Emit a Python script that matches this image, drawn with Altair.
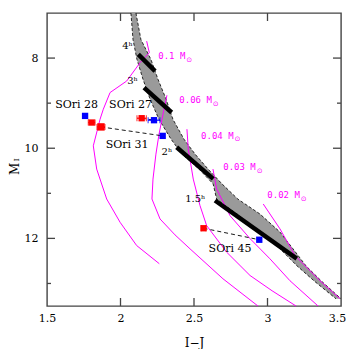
import altair as alt
import pandas as pd

# ---------------- data ----------------
# hatched isochrone band: for each M_I, left and right edge in I-J
band_M     = [7.00, 7.59, 8.03, 8.47, 8.91, 9.36, 9.80, 10.13, 10.46, 10.79, 11.13, 11.46, 11.86, 12.23, 12.61, 12.96, 13.34]
band_left  = [2.071, 2.085, 2.112, 2.153, 2.201, 2.262, 2.344, 2.418, 2.533, 2.630, 2.654, 2.793, 2.949, 3.085, 3.201, 3.323, 3.466]
band_right = [2.105, 2.139, 2.207, 2.255, 2.310, 2.357, 2.432, 2.507, 2.595, 2.690, 2.799, 2.949, 3.085, 3.173, 3.262, 3.371, 3.500]

# thick age segments
seg_age = ["4h", "4h", "3h", "3h", "2h", "2h", "1.5h", "1.5h"]
seg_x   = [2.121, 2.235, 2.160, 2.348, 2.382, 2.631, 2.643, 3.199]
seg_y   = [7.918, 8.288, 8.655, 9.208, 9.980, 10.680, 11.160, 12.450]

age_text = ["4ʰ", "3ʰ", "2ʰ", "1.5ʰ"]
age_x    = [2.048, 2.082, 2.316, 2.509]
age_y    = [7.741, 8.509, 10.080, 11.126]

# evolutionary tracks (magenta)
t010_x = [2.178, 2.196, 2.133, 2.042, 1.929, 1.883, 1.861, 1.815, 1.838, 1.906, 1.997, 2.110, 2.264]
t010_y = [7.624, 7.881, 8.102, 8.509, 8.765, 9.135, 9.356, 9.947, 10.462, 11.126, 11.642, 12.159, 12.562]
t006_x = [2.316, 2.289, 2.262, 2.241, 2.221, 2.214, 2.269, 2.371, 2.473, 2.697, 2.935]
t006_y = [8.825, 9.246, 9.688, 10.131, 10.684, 11.126, 11.569, 11.923, 12.232, 12.896, 13.500]
t004_x = [2.452, 2.461, 2.495, 2.541, 2.586, 2.722, 2.881, 3.031, 3.194]
t004_y = [9.577, 10.020, 10.684, 11.274, 11.717, 12.305, 12.823, 13.162, 13.500]
t003_x = [2.629, 2.654, 2.677, 2.745, 2.881, 3.017, 3.153, 3.344]
t003_y = [10.462, 10.904, 11.053, 11.496, 12.004, 12.454, 12.940, 13.500]
t002_x = [2.971, 3.085, 3.187, 3.357, 3.493]
t002_y = [11.237, 11.790, 12.381, 12.940, 13.338]

mass_text = ["0.1 M", "0.06 M", "0.04 M", "0.03 M", "0.02 M"]
mass_x    = [2.257, 2.400, 2.548, 2.699, 2.999]
mass_y    = [7.956, 8.936, 9.726, 10.425, 11.040]

# objects: red and blue measurements, joined by dashed lines
obj_name  = ["SOri 28", "SOri 31", "SOri 27", "SOri 45"]
red_x     = [1.804, 1.867, 2.144, 2.565]
red_y     = [9.430, 9.527, 9.334, 11.775]
red_xerr  = [0.023, 0.027, 0.032, 0.015]
red_size  = [40, 55, 40, 40]
blue_x    = [1.759, 2.287, 2.228, 2.944]
blue_y    = [9.283, 9.726, 9.378, 12.030]
blue_xerr = [0.0, 0.0, 0.040, 0.0]

label_text = ["SOri 28", "SOri 27", "SOri 31", "SOri 45"]
label_x    = [1.701, 2.068, 2.045, 2.745]
label_y    = [9.046, 9.046, 9.925, 12.232]

# axis ticks
x_ticks       = [2.0, 2.5, 3.0]
x_tick_labels = [1.5, 2.0, 2.5, 3.0, 3.5]
y_major       = [8, 10, 12]
y_minor       = [9, 11, 13]

X_DOM = [1.5, 3.5]
Y_DOM = [7.0, 13.5]
W, H = 294, 293

# ---------------- tables ----------------
band_df = pd.DataFrame({"M": band_M, "left": band_left, "right": band_right})
edge_df = pd.concat([
    pd.DataFrame({"edge": "L", "i": range(len(band_M)), "x": band_left, "y": band_M}),
    pd.DataFrame({"edge": "R", "i": range(len(band_M)), "x": band_right, "y": band_M}),
])
seg_df = pd.DataFrame({"age": seg_age, "x": seg_x, "y": seg_y})
age_df = pd.DataFrame({"t": age_text, "x": age_x, "y": age_y})

tracks = []
for name, tx, ty in [("0.1", t010_x, t010_y), ("0.06", t006_x, t006_y), ("0.04", t004_x, t004_y),
                     ("0.03", t003_x, t003_y), ("0.02", t002_x, t002_y)]:
    tracks.append(pd.DataFrame({"track": name, "i": range(len(tx)), "x": tx, "y": ty}))
track_df = pd.concat(tracks)
mass_df = pd.DataFrame({"t": mass_text, "x": mass_x, "y": mass_y, "n": [len(s) for s in mass_text]})

red_df = pd.DataFrame({"obj": obj_name, "x": red_x, "y": red_y, "size": red_size,
                       "lo": [a - b for a, b in zip(red_x, red_xerr)],
                       "hi": [a + b for a, b in zip(red_x, red_xerr)]})
blue_df = pd.DataFrame({"obj": obj_name, "x": blue_x, "y": blue_y,
                        "lo": [a - b for a, b in zip(blue_x, blue_xerr)],
                        "hi": [a + b for a, b in zip(blue_x, blue_xerr)]})
blue_err_df = blue_df[blue_df["hi"] > blue_df["lo"]]
conn_df = pd.concat([
    pd.DataFrame({"obj": obj_name, "i": 0, "x": red_x, "y": red_y}),
    pd.DataFrame({"obj": obj_name, "i": 1, "x": blue_x, "y": blue_y}),
])
label_df = pd.DataFrame({"t": label_text, "x": label_x, "y": label_y})

# inward tick marks (lengths in pixels converted to data units)
dx_major = (X_DOM[1] - X_DOM[0]) * 8 / W
dx_minor = (X_DOM[1] - X_DOM[0]) * 4 / W
dy_major = (Y_DOM[1] - Y_DOM[0]) * 8 / H
rows = []
for v in x_ticks:
    rows.append({"x": v, "x2": v, "y": Y_DOM[1], "y2": Y_DOM[1] - dy_major})
    rows.append({"x": v, "x2": v, "y": Y_DOM[0], "y2": Y_DOM[0] + dy_major})
for v in y_major + y_minor:
    d = dx_major if v in y_major else dx_minor
    rows.append({"x": X_DOM[0], "x2": X_DOM[0] + d, "y": v, "y2": v})
    rows.append({"x": X_DOM[1], "x2": X_DOM[1] - d, "y": v, "y2": v})
tick_df = pd.DataFrame(rows)

# y-axis title pieces ("M" with subscript "I"), rotated
ytitle_df = pd.DataFrame({"t": ["M", "I"], "x": [1.280, 1.295], "y": [10.46, 10.26], "s": [12, 8]})

# ---------------- chart ----------------
SERIF = "DejaVu Serif"
xs = alt.Scale(domain=X_DOM, nice=False, zero=False)
ys = alt.Scale(domain=Y_DOM, reverse=True, nice=False, zero=False)
XAXIS = alt.Axis(values=x_tick_labels, format="~g", labelFont=SERIF, labelFontSize=11,
                 labelColor="black", labelPadding=6, ticks=False, tickSize=0, domain=False,
                 grid=False, labelFlush=False, labelOverlap=False, labelBound=False,
                 labelOffset={"condition": {"test": "datum.value >= 3.5", "value": -4}, "value": 0},
                 title="I−J", titleFont=SERIF,
                 titleFontSize=12, titleFontWeight="normal", titleColor="black", titlePadding=14)
YAXIS = alt.Axis(values=y_major, labelFont=SERIF, labelFontSize=11, labelColor="black",
                 labelPadding=9, ticks=False, tickSize=0, domain=False, grid=False, title="",
                 labelOverlap=False)


def X(f):
    return alt.X(f, type="quantitative", scale=xs, axis=XAXIS)


def Y(f):
    return alt.Y(f, type="quantitative", scale=ys, axis=YAXIS)


band = alt.Chart(band_df).mark_area(orient="horizontal", color="#9a9a9a").encode(
    y=Y("M"), x=X("left"), x2="right:Q")

edges = alt.Chart(edge_df).mark_line(color="black", strokeWidth=0.8, strokeDash=[3, 2]).encode(
    x=X("x"), y=Y("y"), detail="edge:N", order="i:Q")

tracks_l = alt.Chart(track_df).mark_line(color="#ff00ff", strokeWidth=1).encode(
    x=X("x"), y=Y("y"), detail="track:N", order="i:Q")

segs = alt.Chart(seg_df).mark_line(color="black", strokeWidth=4.5, strokeCap="butt").encode(
    x=X("x"), y=Y("y"), detail="age:N")

ages = alt.Chart(age_df).mark_text(font=SERIF, fontSize=10, color="black").encode(
    x=X("x"), y=Y("y"), text="t:N")

mass_main = alt.Chart(mass_df).mark_text(font="DejaVu Sans Mono", fontSize=9, color="#ff00ff",
                                         align="left").encode(x=X("x"), y=Y("y"), text="t:N")
sun5 = alt.Chart(mass_df).transform_filter("datum.n == 5").mark_text(
    font="DejaVu Sans", fontSize=7, color="#ff00ff", align="left", dx=28, dy=3.5
).encode(x=X("x"), y=Y("y"), text=alt.value("⊙"))
sun6 = alt.Chart(mass_df).transform_filter("datum.n == 6").mark_text(
    font="DejaVu Sans", fontSize=7, color="#ff00ff", align="left", dx=33.5, dy=3.5
).encode(x=X("x"), y=Y("y"), text=alt.value("⊙"))

conn = alt.Chart(conn_df).mark_line(color="black", strokeWidth=0.9, strokeDash=[4, 3]).encode(
    x=X("x"), y=Y("y"), detail="obj:N", order="i:Q")

red_err = alt.Chart(red_df).mark_rule(color="#ff0000", strokeWidth=1.2).encode(
    x=X("lo"), x2="hi:Q", y=Y("y"))
red_caps = alt.Chart(red_df).transform_fold(["lo", "hi"], as_=["k", "v"]).mark_tick(
    color="#ff0000", orient="vertical", size=6, thickness=1.2).encode(x=X("v"), y=Y("y"))
blue_err = alt.Chart(blue_err_df).mark_rule(color="#0000ff", strokeWidth=1.2).encode(
    x=X("lo"), x2="hi:Q", y=Y("y"))
blue_caps = alt.Chart(blue_err_df).transform_fold(["lo", "hi"], as_=["k", "v"]).mark_tick(
    color="#0000ff", orient="vertical", size=6, thickness=1.2).encode(x=X("v"), y=Y("y"))

red_pts = alt.Chart(red_df).mark_square(color="#ff0000", opacity=1).encode(
    x=X("x"), y=Y("y"), size=alt.Size("size:Q", scale=None, legend=None))
blue_pts = alt.Chart(blue_df).mark_square(color="#0000ff", size=40, opacity=1).encode(
    x=X("x"), y=Y("y"))

labels = alt.Chart(label_df).mark_text(font=SERIF, fontSize=11, color="black").encode(
    x=X("x"), y=Y("y"), text="t:N")

ticks = alt.Chart(tick_df).mark_rule(color="#444444", strokeWidth=1.3).encode(
    x=X("x"), x2="x2:Q", y=Y("y"), y2="y2:Q")

ytitle = alt.Chart(ytitle_df).mark_text(font=SERIF, color="black", angle=270).encode(
    x=X("x"), y=Y("y"), text="t:N", size=alt.Size("s:Q", scale=None, legend=None))

chart = alt.layer(
    band, edges, tracks_l, segs, ages, mass_main, sun5, sun6, conn,
    red_err, red_caps, blue_err, blue_caps, red_pts, blue_pts, labels, ticks, ytitle
).properties(
    width=W, height=H,
    autosize=alt.AutoSizeParams(type="none"),
    padding={"left": 39, "top": 5, "right": 5, "bottom": 44},
).configure_view(stroke="#444444", strokeWidth=1.4)

chart.save("out.html", embed_options={"renderer": "svg", "actions": False})
